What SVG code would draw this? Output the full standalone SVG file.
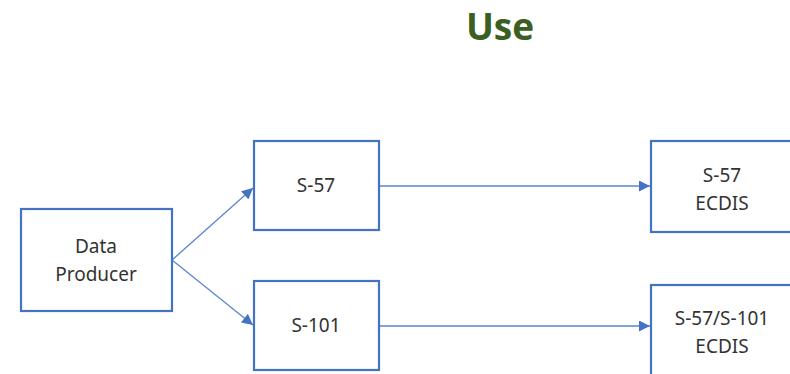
<svg xmlns="http://www.w3.org/2000/svg" width="790" height="374" viewBox="0 0 790 374">
<style>
.box{fill:#fff;stroke:#4472C4;stroke-width:2.2}
.lbl{font-family:"Noto Sans","Open Sans",sans-serif;font-size:19px;fill:#333;text-anchor:middle}
.conn{stroke:#5B85D0;stroke-width:1.3;fill:none}
.title{font-family:"Open Sans","Noto Sans",sans-serif;font-weight:bold;font-size:37px;fill:#3B5E22;text-anchor:middle}
</style>
<defs>
<marker id="arr" viewBox="0 0 10 10" refX="10" refY="5" markerWidth="12" markerHeight="11" markerUnits="userSpaceOnUse" orient="auto">
<path d="M0,0 L10,5 L0,10 z" fill="#4472C4"/>
</marker>
</defs>
<rect width="790" height="374" fill="#fff"/>
<text class="title" x="500" y="40">Use</text>
<g id="connectors">
<line class="conn" x1="172" y1="260" x2="253" y2="188" marker-end="url(#arr)"/>
<line class="conn" x1="172" y1="260" x2="253" y2="325" marker-end="url(#arr)"/>
<line class="conn" x1="379" y1="186" x2="650" y2="186" marker-end="url(#arr)"/>
<line class="conn" x1="379" y1="326" x2="650" y2="326" marker-end="url(#arr)"/>
</g>
<g id="data-producer">
<rect class="box" x="21" y="209" width="151" height="102"/>
<text class="lbl" x="96" y="253">Data</text>
<text class="lbl" x="96" y="281">Producer</text>
</g>
<g id="s57">
<rect class="box" x="254" y="141" width="125" height="89"/>
<text class="lbl" x="316" y="192">S-57</text>
</g>
<g id="s101">
<rect class="box" x="254" y="281" width="125" height="89"/>
<text class="lbl" x="316" y="332">S-101</text>
</g>
<g id="s57-ecdis">
<rect class="box" x="651" y="141" width="150" height="91"/>
<text class="lbl" x="722" y="182">S-57</text>
<text class="lbl" x="722" y="210">ECDIS</text>
</g>
<g id="s57-s101-ecdis">
<rect class="box" x="651" y="285" width="150" height="100"/>
<text class="lbl" x="722" y="325">S-57/S-101</text>
<text class="lbl" x="722" y="353">ECDIS</text>
</g>
</svg>
